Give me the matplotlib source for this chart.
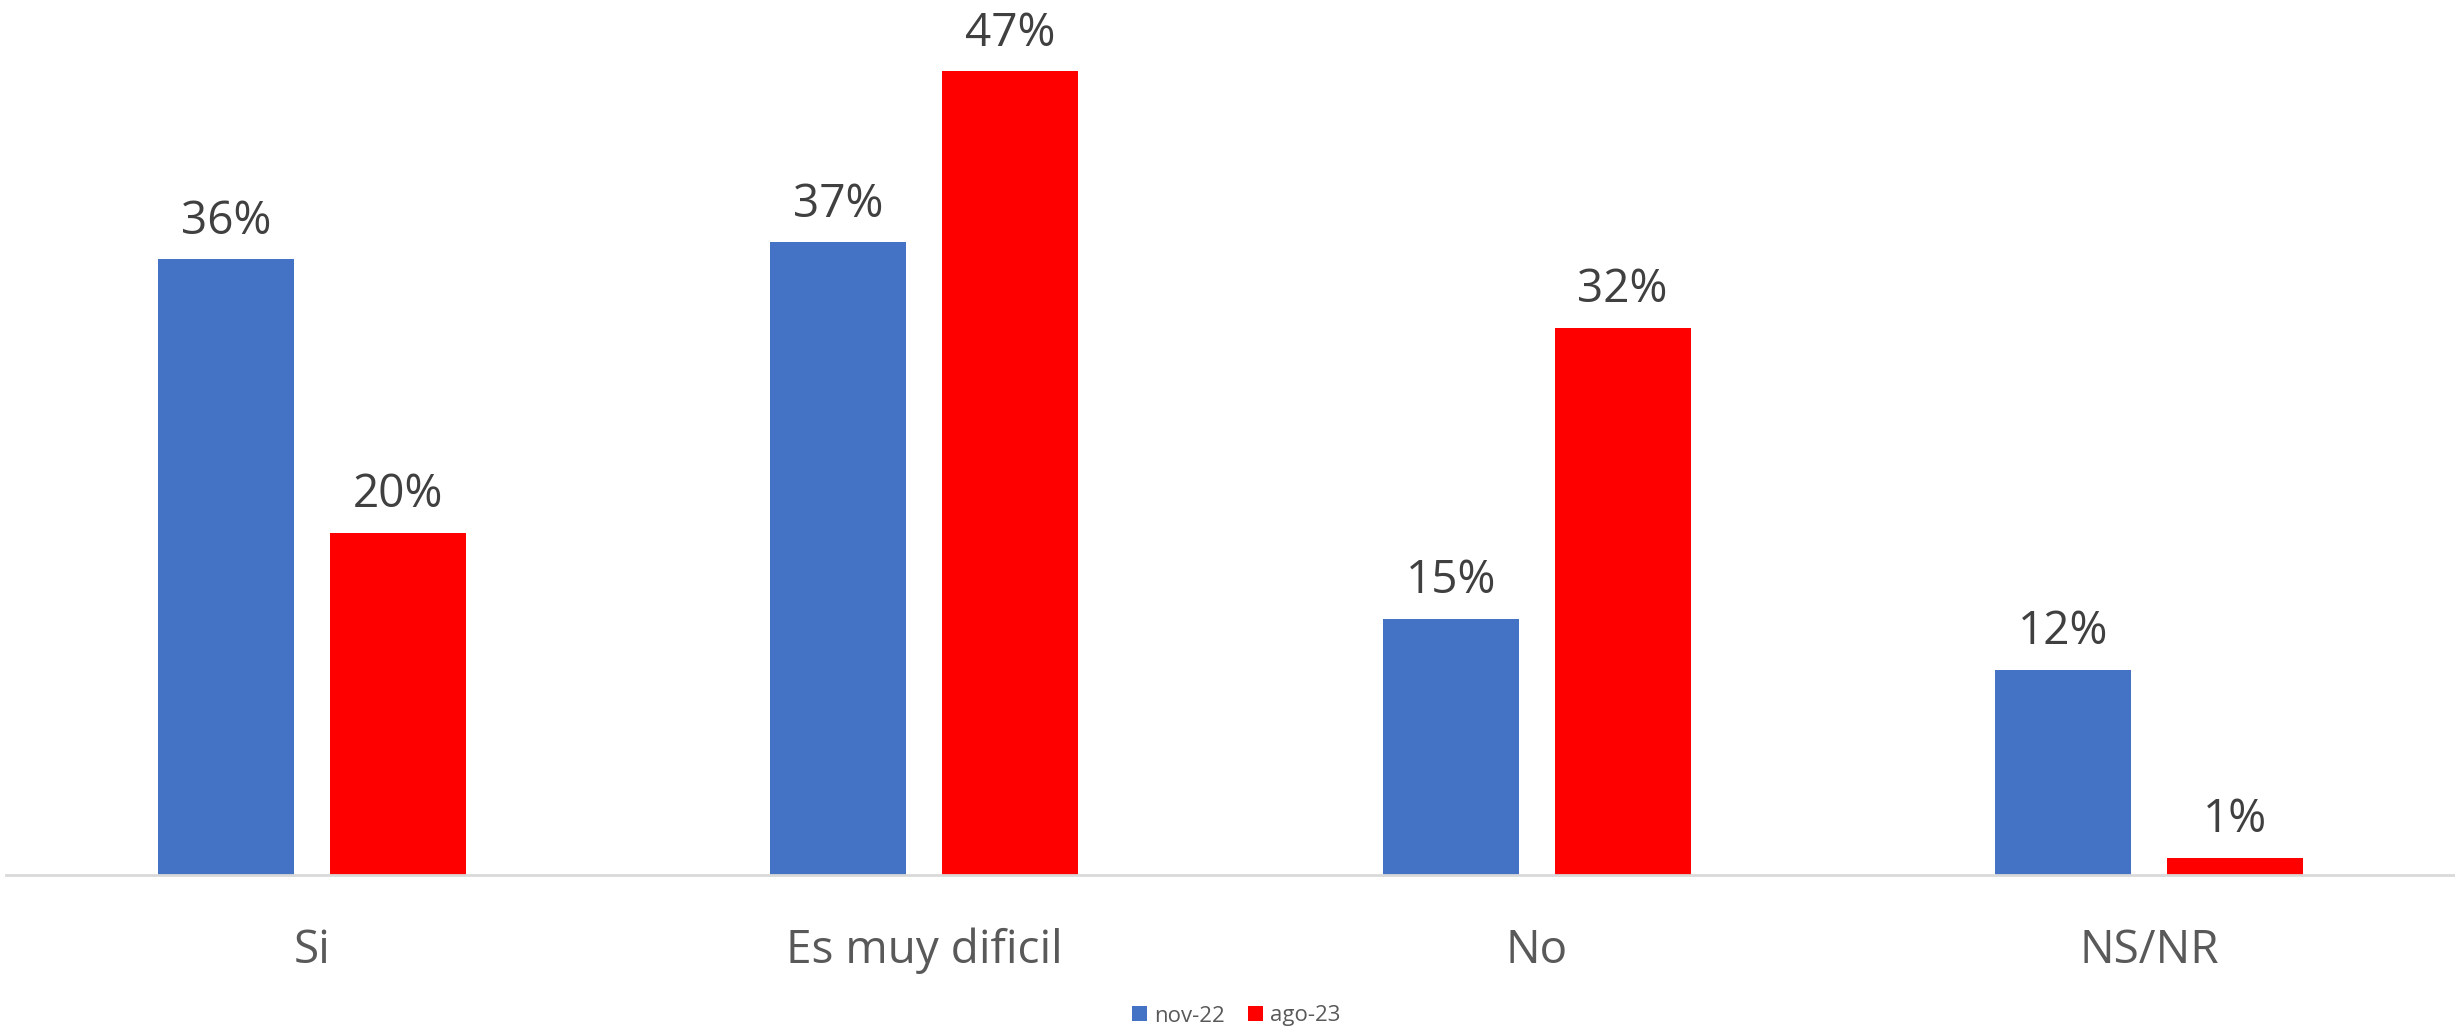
import matplotlib
matplotlib.use("Agg")
import matplotlib.pyplot as plt
import numpy as np

categories = ["Si", "Es muy dificil", "No", "NS/NR"]
series_names = ["nov-22", "ago-23"]
nov22 = [36, 37, 15, 12]
ago23 = [20, 47, 32, 1]
colors = ["#4472C4", "#FF0000"]

plt.rcParams['font.family'] = ['Open Sans', 'DejaVu Sans']

W, H = 2455, 1030
fig = plt.figure(figsize=(W / 100, H / 100), dpi=100)
ax = fig.add_axes([6 / W, (H - 875) / H, 1 - 6 / W, 855 / H])

x = np.arange(len(categories))
bw = 0.222
off = 0.1405
for vals, name, col, d in [(nov22, series_names[0], colors[0], -off),
                           (ago23, series_names[1], colors[1], off)]:
    bars = ax.bar(x + d, vals, width=bw, color=col, label=name, zorder=2)
    for b, v in zip(bars, vals):
        ax.annotate(f"{v}%", (b.get_x() + b.get_width() / 2, b.get_height()),
                    xytext=(0, 18.5), textcoords="offset points",
                    ha="center", va="baseline", fontsize=33, color="#404040")

ax.set_xlim(-0.5, len(categories) - 0.5)
ax.set_ylim(0, 50)
ax.set_yticks([])
ax.set_xticks(x)
ax.set_xticklabels(categories, fontsize=33, color="#595959")
ax.tick_params(axis="x", length=0, pad=38)
for s in ["top", "right", "left"]:
    ax.spines[s].set_visible(False)
ax.spines["bottom"].set_color("#D9D9D9")
ax.spines["bottom"].set_linewidth(2)
ax.spines["bottom"].set_zorder(3)

fig.legend(loc="center", bbox_to_anchor=(1236 / W, 14 / H), ncol=2, frameon=False,
           fontsize=16, labelcolor="#595959", handlelength=0.68, handleheight=0.68,
           handletextpad=0.32, columnspacing=1.05, borderaxespad=0, borderpad=0)

fig.savefig("out.png", dpi=100, facecolor="white")
